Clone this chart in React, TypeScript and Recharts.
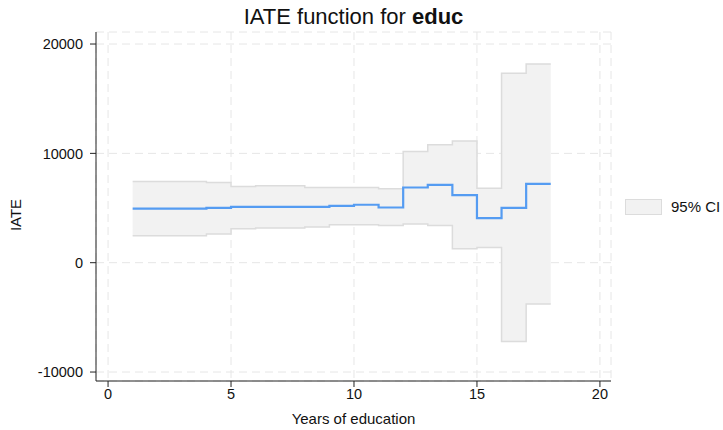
import { ComposedChart, Area, Line, XAxis, YAxis, CartesianGrid } from 'recharts';

// years of education (knots of the step function)
const years = [1, 2, 3, 4, 5, 6, 7, 8, 9, 10, 11, 12, 13, 14, 15, 16, 17, 18];
// IATE estimate, held constant until the next knot
const iate = [4950, 4950, 4950, 5020, 5110, 5110, 5110, 5110, 5200, 5300, 5050, 6880, 7120, 6180, 4080, 5020, 7210, 7210];
// 95% confidence band
const ciLow = [2470, 2470, 2470, 2620, 3100, 3170, 3170, 3260, 3470, 3470, 3400, 3530, 3400, 1280, 1400, -7210, -3770, -3770];
const ciHigh = [7430, 7430, 7430, 7340, 6970, 7030, 7030, 6880, 6880, 6880, 6760, 10160, 10780, 11140, 6820, 17320, 18170, 18170];

const xTicks = [0, 5, 10, 15, 20];
const yTicks = [-10000, 0, 10000, 20000];

const rows = years.map((x, i) => ({ x, iate: iate[i], ci: [ciLow[i], ciHigh[i]] }));

const FONT = 'Liberation Sans, Arial, sans-serif';

export default function App() {
  return (
    <div style={{ width: 723, height: 430, position: 'relative', fontFamily: FONT, background: '#fff', color: '#111' }}>
      <style>{'body { margin: 0; }'}</style>
      <div style={{ position: 'absolute', left: 96, width: 515, top: 4, textAlign: 'center', fontSize: 22 }}>
        IATE function for <b>educ</b>
      </div>
      <ComposedChart
        width={723}
        height={430}
        data={rows}
        margin={{ top: 32, right: 112, bottom: 0, left: 0 }}
        style={{ fontFamily: FONT }}
      >
        <CartesianGrid stroke="#e6e6e6" strokeDasharray="8 5" />
        <XAxis
          dataKey="x"
          type="number"
          domain={[-0.49, 20.45]}
          ticks={xTicks}
          allowDataOverflow
          height={49}
          stroke="#222"
          tickLine={{ stroke: '#222' }}
          tickSize={6}
          tickMargin={2}
          tick={{ fill: '#111', fontSize: 14.5 }}
        />
        <YAxis
          type="number"
          domain={[-10820, 21100]}
          ticks={yTicks}
          allowDataOverflow
          width={96}
          stroke="#222"
          tickLine={{ stroke: '#222' }}
          tickSize={6}
          tickMargin={7}
          tick={{ fill: '#111', fontSize: 14.5 }}
        />
        <Area
          dataKey="ci"
          name="95% CI"
          type="stepAfter"
          fill="#f2f2f2"
          fillOpacity={1}
          stroke="#dcdcdc"
          strokeWidth={1.5}
          isAnimationActive={false}
        />
        <Line
          dataKey="iate"
          type="stepAfter"
          stroke="#559cf2"
          strokeWidth={2.2}
          dot={false}
          isAnimationActive={false}
        />
      </ComposedChart>
      <div style={{ position: 'absolute', left: 96, width: 515, top: 410, textAlign: 'center', fontSize: 15 }}>
        Years of education
      </div>
      <div style={{ position: 'absolute', left: 15, top: 215, transform: 'translate(-50%, -50%) rotate(-90deg)', fontSize: 15 }}>
        IATE
      </div>
      <div style={{ position: 'absolute', left: 625, top: 198, display: 'flex', alignItems: 'center', fontSize: 15, whiteSpace: 'nowrap' }}>
        <span style={{ display: 'inline-block', width: 35, height: 14, background: '#f2f2f2', border: '1px solid #dcdcdc', marginRight: 9 }} />
        95% CI
      </div>
    </div>
  );
}
